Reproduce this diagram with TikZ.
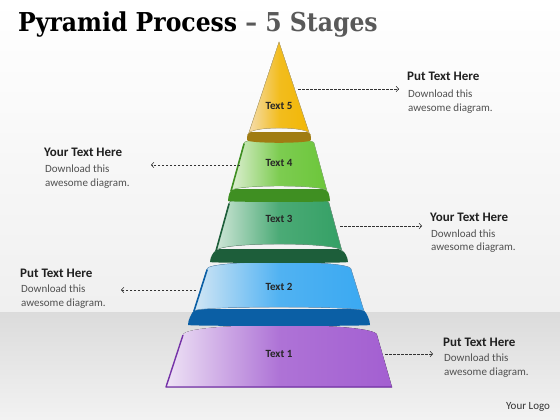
\documentclass[tikz,border=0pt]{standalone}
\usepackage{fontspec}
\setmainfont{Carlito}
\newfontfamily\titlefont{DejaVu Serif}
\usetikzlibrary{arrows.meta}
\definecolor{titlegray}{HTML}{595959}
\definecolor{bodygray}{HTML}{505050}
\definecolor{gold}{HTML}{F2B705}\definecolor{goldL}{HTML}{F5DDAE}\definecolor{goldD}{HTML}{A07C12}
\definecolor{lgreen}{HTML}{6CC63A}\definecolor{lgreenL}{HTML}{DDEFD2}\definecolor{lgreenD}{HTML}{3F8F22}
\definecolor{dgreen}{HTML}{34A065}\definecolor{dgreenL}{HTML}{CFE6D7}\definecolor{dgreenD}{HTML}{1D5E3A}
\definecolor{tblue}{HTML}{3AA9F2}\definecolor{tblueL}{HTML}{D2E6F4}\definecolor{tblueD}{HTML}{0B5FA5}
\definecolor{tpurple}{HTML}{A35FD1}\definecolor{tpurpleL}{HTML}{EEE3F5}\definecolor{tpurpleD}{HTML}{7532A8}
\tikzset{
  head/.style={anchor=base west, inner sep=0pt, font=\fontsize{13}{15}\selectfont\bfseries, text=black!88},
  body/.style={anchor=base west, inner sep=0pt, font=\fontsize{11}{13}\selectfont, text=bodygray},
  tierlabel/.style={inner sep=0pt, font=\fontsize{11}{13}\selectfont\bfseries, text=black!85},
  conn/.style={dash pattern=on 2.5pt off 1.5pt, line width=0.6pt, draw=black!80, -{Straight Barb[length=2.5pt,width=5.5pt]}},
  face/.style args={#1}{left color=#1L, right color=#1, middle color=#1!85!#1L, draw=#1D!60, line width=0.4pt},
  band/.style={fill=#1, rounded corners=4pt},
  rim/.style={draw=#1, line width=1.6pt, line cap=round},
}
\begin{document}
\begin{tikzpicture}[x=1pt,y=-1pt]
\useasboundingbox (0,0) rectangle (560,420);
% background
\fill[top color=white, bottom color=black!6] (0,0) rectangle (560,312);
\fill[top color=black!14, bottom color=black!5] (0,312) rectangle (560,420);
% title
\node[anchor=base west, inner sep=0pt, xscale=0.905, font=\titlefont\fontsize{26}{30}\selectfont\bfseries] (title) at (18,32) {Pyramid Process \textcolor{titlegray}{– 5 Stages}};
% tier 1
\fill[face=tpurple, draw=none] (183,335) .. controls (183,321.7) and (377,321.7) .. (377,335) -- (392,387) -- (166,387) -- cycle;
\draw[tpurpleD, line width=1.4pt, line join=round] (183,335) -- (166,387) -- (392,387);
% tier 2
\fill[band=tblueD] (194,309) -- (188,321) .. controls (188,326.3) and (370,326.3) .. (370,321) -- (364,309) -- cycle;
\filldraw[face=tblue] (207,269) .. controls (207,259.7) and (351,259.7) .. (351,269) -- (364,311) .. controls (364,305.7) and (194,305.7) .. (194,311) -- cycle;
\draw[rim=tblueD] (207,270) -- (194,311);
% tier 3
\fill[band=dgreenD] (216,249) -- (210,258) .. controls (210,263.3) and (348,263.3) .. (348,258) -- (342,249) -- cycle;
\filldraw[face=dgreen] (229,203) .. controls (229,195) and (329,195) .. (329,203) -- (342,251) .. controls (342,241.7) and (216,241.7) .. (216,251) -- cycle;
\draw[rim=dgreenD] (229,204) -- (216,251);
% tier 4
\fill[band=lgreenD] (231,189) -- (228,197) .. controls (228,202.3) and (330,202.3) .. (330,197) -- (327,189) -- cycle;
\filldraw[face=lgreen] (244,143) .. controls (244,137.7) and (314,137.7) .. (314,143) -- (327,191) .. controls (327,184.3) and (231,184.3) .. (231,191) -- cycle;
\draw[rim=lgreenD] (244,144) -- (231,191);
% tier 5 (cone)
\fill[band=goldD, rounded corners=3pt] (248,132) -- (247,137) .. controls (247,143.7) and (311,143.7) .. (311,137) -- (310,132) -- cycle;
\filldraw[face=gold] (279,42) -- (309.5,134) .. controls (309.5,126) and (248.5,126) .. (248.5,134) -- cycle;
% tier labels
\node[tierlabel] (t5) at (279,106) {Text 5};
\node[tierlabel] (t4) at (279,163) {Text 4};
\node[tierlabel] (t3) at (279,219) {Text 3};
\node[tierlabel] (t2) at (279,287) {Text 2};
\node[tierlabel] (t1) at (279,354) {Text 1};
% side texts
\node[head] (h5) at (407,81) {Put Text Here};
\node[body] (b5a) at (408,97) {Download this};
\node[body] (b5b) at (408,111) {awesome diagram.};
\node[head] (h4) at (44,157) {Your Text Here};
\node[body] (b4a) at (45,172) {Download this};
\node[body] (b4b) at (45,186) {awesome diagram.};
\node[head] (h3) at (430,221) {Your Text Here};
\node[body] (b3a) at (431,237) {Download this};
\node[body] (b3b) at (431,250) {awesome diagram.};
\node[head] (h2) at (20,277) {Put Text Here};
\node[body] (b2a) at (21,292) {Download this};
\node[body] (b2b) at (21,306) {awesome diagram.};
\node[head] (h1) at (443,346) {Put Text Here};
\node[body] (b1a) at (444,361) {Download this};
\node[body] (b1b) at (444,375) {awesome diagram.};
\node[body, text=black!80] (logo) at (506,409) {Your Logo};
% connectors
\coordinate (s5) at (298,89); \coordinate (e5) at (399,89);
\coordinate (s4) at (240,165); \coordinate (e4) at (151,165);
\coordinate (s3) at (340,226); \coordinate (e3) at (422,226);
\coordinate (s2) at (196,290); \coordinate (e2) at (121,290);
\coordinate (s1) at (385,354); \coordinate (e1) at (433,354);
\draw[conn] (s5) -- (e5);
\draw[conn] (s4) -- (e4);
\draw[conn] (s3) -- (e3);
\draw[conn] (s2) -- (e2);
\draw[conn] (s1) -- (e1);
\end{tikzpicture}
\end{document}
